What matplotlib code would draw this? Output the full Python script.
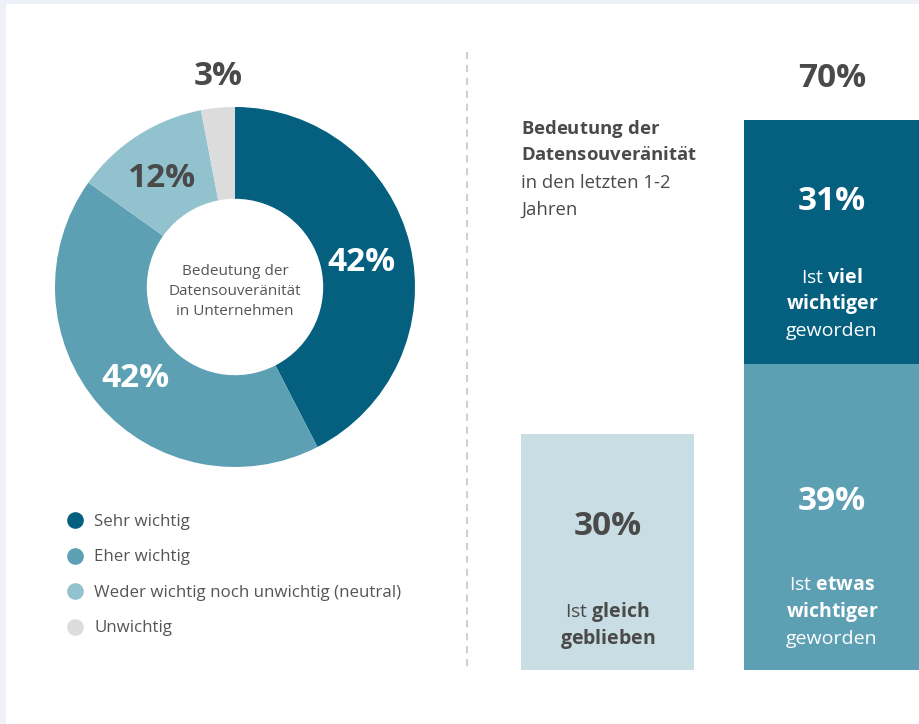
import matplotlib
matplotlib.use('Agg')
import matplotlib.pyplot as plt
from matplotlib.lines import Line2D
from matplotlib.patches import Rectangle
import numpy as np

plt.rcParams['font.family'] = ['Open Sans', 'DejaVu Sans']
plt.rcParams['mathtext.fontset'] = 'custom'
plt.rcParams['mathtext.rm'] = 'Open Sans'
plt.rcParams['mathtext.bf'] = 'Open Sans:bold'

# donut: Bedeutung der Datensouveränität in Unternehmen
pie_labels = ['Sehr wichtig', 'Eher wichtig', 'Weder wichtig noch unwichtig (neutral)', 'Unwichtig']
pie_values = [42, 42, 12, 3]
pie_colors = ['#04607e', '#5ea0b3', '#93c2cf', '#dcdcdc']

# bars: Entwicklung in den letzten 1-2 Jahren
gleich = 30
etwas_wichtiger = 39
viel_wichtiger = 31

dark = '#4a4a4a'
grey = '#555555'
big = 24
small = 14

fig = plt.figure(figsize=(9.2, 7.24), dpi=100)
fig.patch.set_facecolor('#eef2f8')
fig.patches.append(Rectangle((6 / 920, 0), 1, 720 / 724, transform=fig.transFigure,
                             facecolor='white', edgecolor='none', zorder=-1))

# ---- donut ----
ax = fig.add_axes([55 / 920, (724 - 467) / 724, 360 / 920, 360 / 724])
wedges, _ = ax.pie(pie_values, colors=pie_colors, startangle=90, counterclock=False,
                   wedgeprops=dict(width=0.51, edgecolor='none'))
ax.set_xlim(-1, 1)
ax.set_ylim(-1, 1)

label_r = [0.72, 0.73, 0.75, None]
label_c = ['white', 'white', dark, dark]
for w, v, r, c in zip(wedges, pie_values, label_r, label_c):
    t1, t2 = np.deg2rad(w.theta1), np.deg2rad(w.theta2)
    if r is None:
        # small slice: label sits above the ring
        x, y = (np.cos(t1) + np.cos(t2)) / 2, 1.2
    else:
        mid = (t1 + t2) / 2
        x, y = r * np.cos(mid), r * np.sin(mid)
    ax.annotate(f'{v}%', (x, y), xytext=(0, -4), textcoords='offset points', annotation_clip=False,
                ha='center', va='center', fontsize=big, fontweight='bold', color=c)

ax.annotate('Bedeutung der\nDatensouveränität\nin Unternehmen', (0, 0), xytext=(0, -3),
            textcoords='offset points', ha='center', va='center',
            fontsize=11, color=grey, linespacing=1.45)

handles = [Line2D([], [], marker='o', linestyle='none', markersize=12,
                  markerfacecolor=c, markeredgecolor='none') for c in pie_colors]
fig.legend(handles, pie_labels, loc='upper left', bbox_to_anchor=(67 / 920, 1 - 514 / 724),
           frameon=False, fontsize=12.2, labelcolor=grey, labelspacing=1.15,
           handletextpad=0.72, borderpad=0, borderaxespad=0, handlelength=0.9)

# dashed separator
fig.add_artist(Line2D([467 / 920] * 2, [1 - 52 / 724, 1 - 668 / 724], transform=fig.transFigure,
                      color='#d0d0d0', linewidth=1.5, linestyle=(0, (3.4, 2.8))))

# ---- bars ----
bx = fig.add_axes([470 / 920, 54 / 724, 450 / 920, 550 / 724])
bx.set_xlim(-0.612, 1.392)
bx.set_ylim(0, 70)
bx.axis('off')
bx.bar(0, gleich, width=0.77, color='#c9dde4')
bx.bar(1, etwas_wichtiger, width=0.78, color='#5ea0b3')
bx.bar(1, viel_wichtiger, bottom=etwas_wichtiger, width=0.78, color='#04607e')


def stack_lines(x, y, lines, step=3.45, **kw):
    for i, line in enumerate(lines):
        bx.text(x, y - i * step, line, va='center', **kw)


bx.text(1, 75.3, f'{etwas_wichtiger + viel_wichtiger}%', ha='center', va='center',
        fontsize=big, fontweight='bold', color=dark)
bx.text(1, 59.6, f'{viel_wichtiger}%', ha='center', va='center', fontsize=big, fontweight='bold', color='white')
stack_lines(1, 50.0, ['Ist $\\mathbf{viel}$', '$\\mathbf{wichtiger}$', 'geworden'],
            ha='center', fontsize=small, color='white')
bx.text(1, 21.5, f'{etwas_wichtiger}%', ha='center', va='center', fontsize=big, fontweight='bold', color='white')
stack_lines(1, 10.8, ['Ist $\\mathbf{etwas}$', '$\\mathbf{wichtiger}$', 'geworden'],
            ha='center', fontsize=small, color='white')
bx.text(0, 18.3, f'{gleich}%', ha='center', va='center', fontsize=big, fontweight='bold', color=dark)
stack_lines(0, 7.4, ['Ist $\\mathbf{gleich}$', '$\\mathbf{geblieben}$'],
            ha='center', fontsize=small, color=dark)

stack_lines(-0.385, 68.9, ['$\\mathbf{Bedeutung\\ der}$', '$\\mathbf{Datensouver\\ddot{a}nit\\ddot{a}t}$',
                           'in den letzten 1-2', 'Jahren'],
            ha='left', fontsize=13.3, color=dark)

fig.savefig('out.png', dpi=100, facecolor=fig.get_facecolor())
